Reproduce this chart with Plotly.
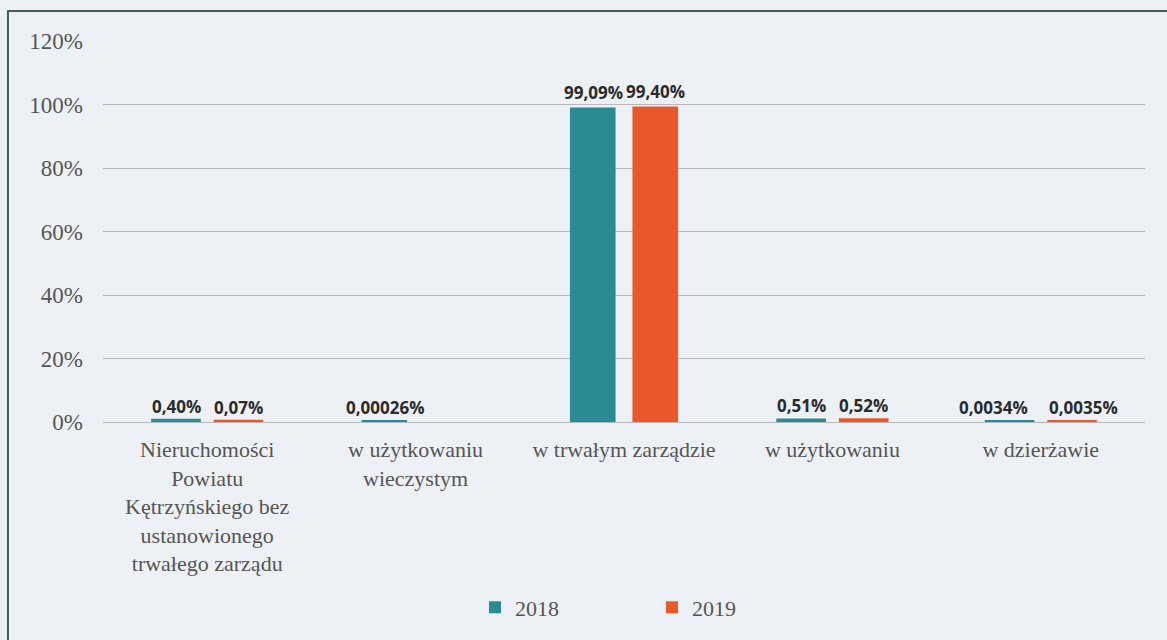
import plotly.graph_objects as go

categories = [
    "Nieruchomości<br>Powiatu<br>Kętrzyńskiego bez<br>ustanowionego<br>trwałego zarządu",
    "w użytkowaniu<br>wieczystym",
    "w trwałym zarządzie",
    "w użytkowaniu",
    "w dzierżawie",
]
values_2018 = [0.0040, 0.0000026, 0.9909, 0.0051, 0.000034]
values_2019 = [0.0007, None, 0.9940, 0.0052, 0.000035]
labels_2018 = ["0,40%", "0,00026%", "99,09%", "0,51%", "0,0034%"]
labels_2019 = ["0,07%", "", "99,40%", "0,52%", "0,0035%"]
tick_vals = [0, 0.2, 0.4, 0.6, 0.8, 1.0, 1.2]
tick_text = ["0%", "20%", "40%", "60%", "80%", "100%", "120%"]

TEAL = "#2a8b94"
ORANGE = "#e9572a"
BG = "#edf1f5"

# label horizontal nudges (style only), per series
extra_shift_2018 = [0, 0, 0, 0, -16]
extra_shift_2019 = [0, 0, 0, 0, 12]


def line_widths(vals):
    return [0 if (v is None or v > 0.05) else 4 for v in vals]


fig = go.Figure()
series = [
    ("2018", values_2018, labels_2018, TEAL, -31, extra_shift_2018),
    ("2019", values_2019, labels_2019, ORANGE, 31, extra_shift_2019),
]
for name, vals, labs, col, off, extra in series:
    fig.add_trace(go.Bar(
        name=name, x=categories, y=vals, showlegend=False, offsetgroup=name,
        marker=dict(color=col, line=dict(color=col, width=line_widths(vals))),
    ))
    # legend-only entry with a clean square symbol
    fig.add_trace(go.Bar(
        name=name, x=[categories[0]], y=[None], showlegend=True, offsetgroup=name,
        marker=dict(color=col, line=dict(width=0)), hoverinfo="skip",
    ))
    for c, v, t, e in zip(categories, vals, labs, extra):
        if v is None or not t:
            continue
        fig.add_annotation(
            x=c, y=v, text="<b>" + t + "</b>", showarrow=False,
            xshift=off + e, yshift=1, yanchor="bottom",
            font=dict(family="Open Sans", size=17, color="#2b2b2b"),
        )

fig.update_layout(
    width=1167, height=640,
    margin=dict(l=103, r=22, t=41, b=213),
    paper_bgcolor=BG, plot_bgcolor=BG,
    barmode="group", bargap=0.4, bargroupgap=0.27,
    font=dict(family="Liberation Serif", size=22, color="#555555"),
    showlegend=True,
    legend=dict(
        orientation="h", x=0.357, xanchor="left", y=-0.487, yanchor="middle",
        entrywidth=132, font=dict(family="Liberation Serif", size=22, color="#555555"),
        bgcolor="rgba(0,0,0,0)", itemwidth=30,
    ),
    xaxis=dict(showgrid=False, showline=False, ticks="", automargin=False,
               ticklabelstandoff=12, tickfont=dict(size=22)),
    yaxis=dict(
        range=[0, 1.2], tickvals=tick_vals, ticktext=tick_text, automargin=False,
        showgrid=True, gridcolor="#b8b6bf", gridwidth=1.3, zeroline=True,
        zerolinecolor="#b8b6bf", zerolinewidth=1.3, showline=False,
        ticks="", ticklabelstandoff=19, tickfont=dict(size=23),
    ),
    shapes=[dict(
        type="rect", xref="paper", yref="paper",
        x0=-0.0912, x1=1.1, y0=-0.7, y1=1.0785,
        line=dict(color="#3e5e60", width=2), fillcolor="rgba(0,0,0,0)", layer="below",
    )],
)

fig.write_html(
    "out.html",
    config={"displayModeBar": False},
    post_script="document.body.style.margin='0';document.body.style.overflow='hidden';",
)
